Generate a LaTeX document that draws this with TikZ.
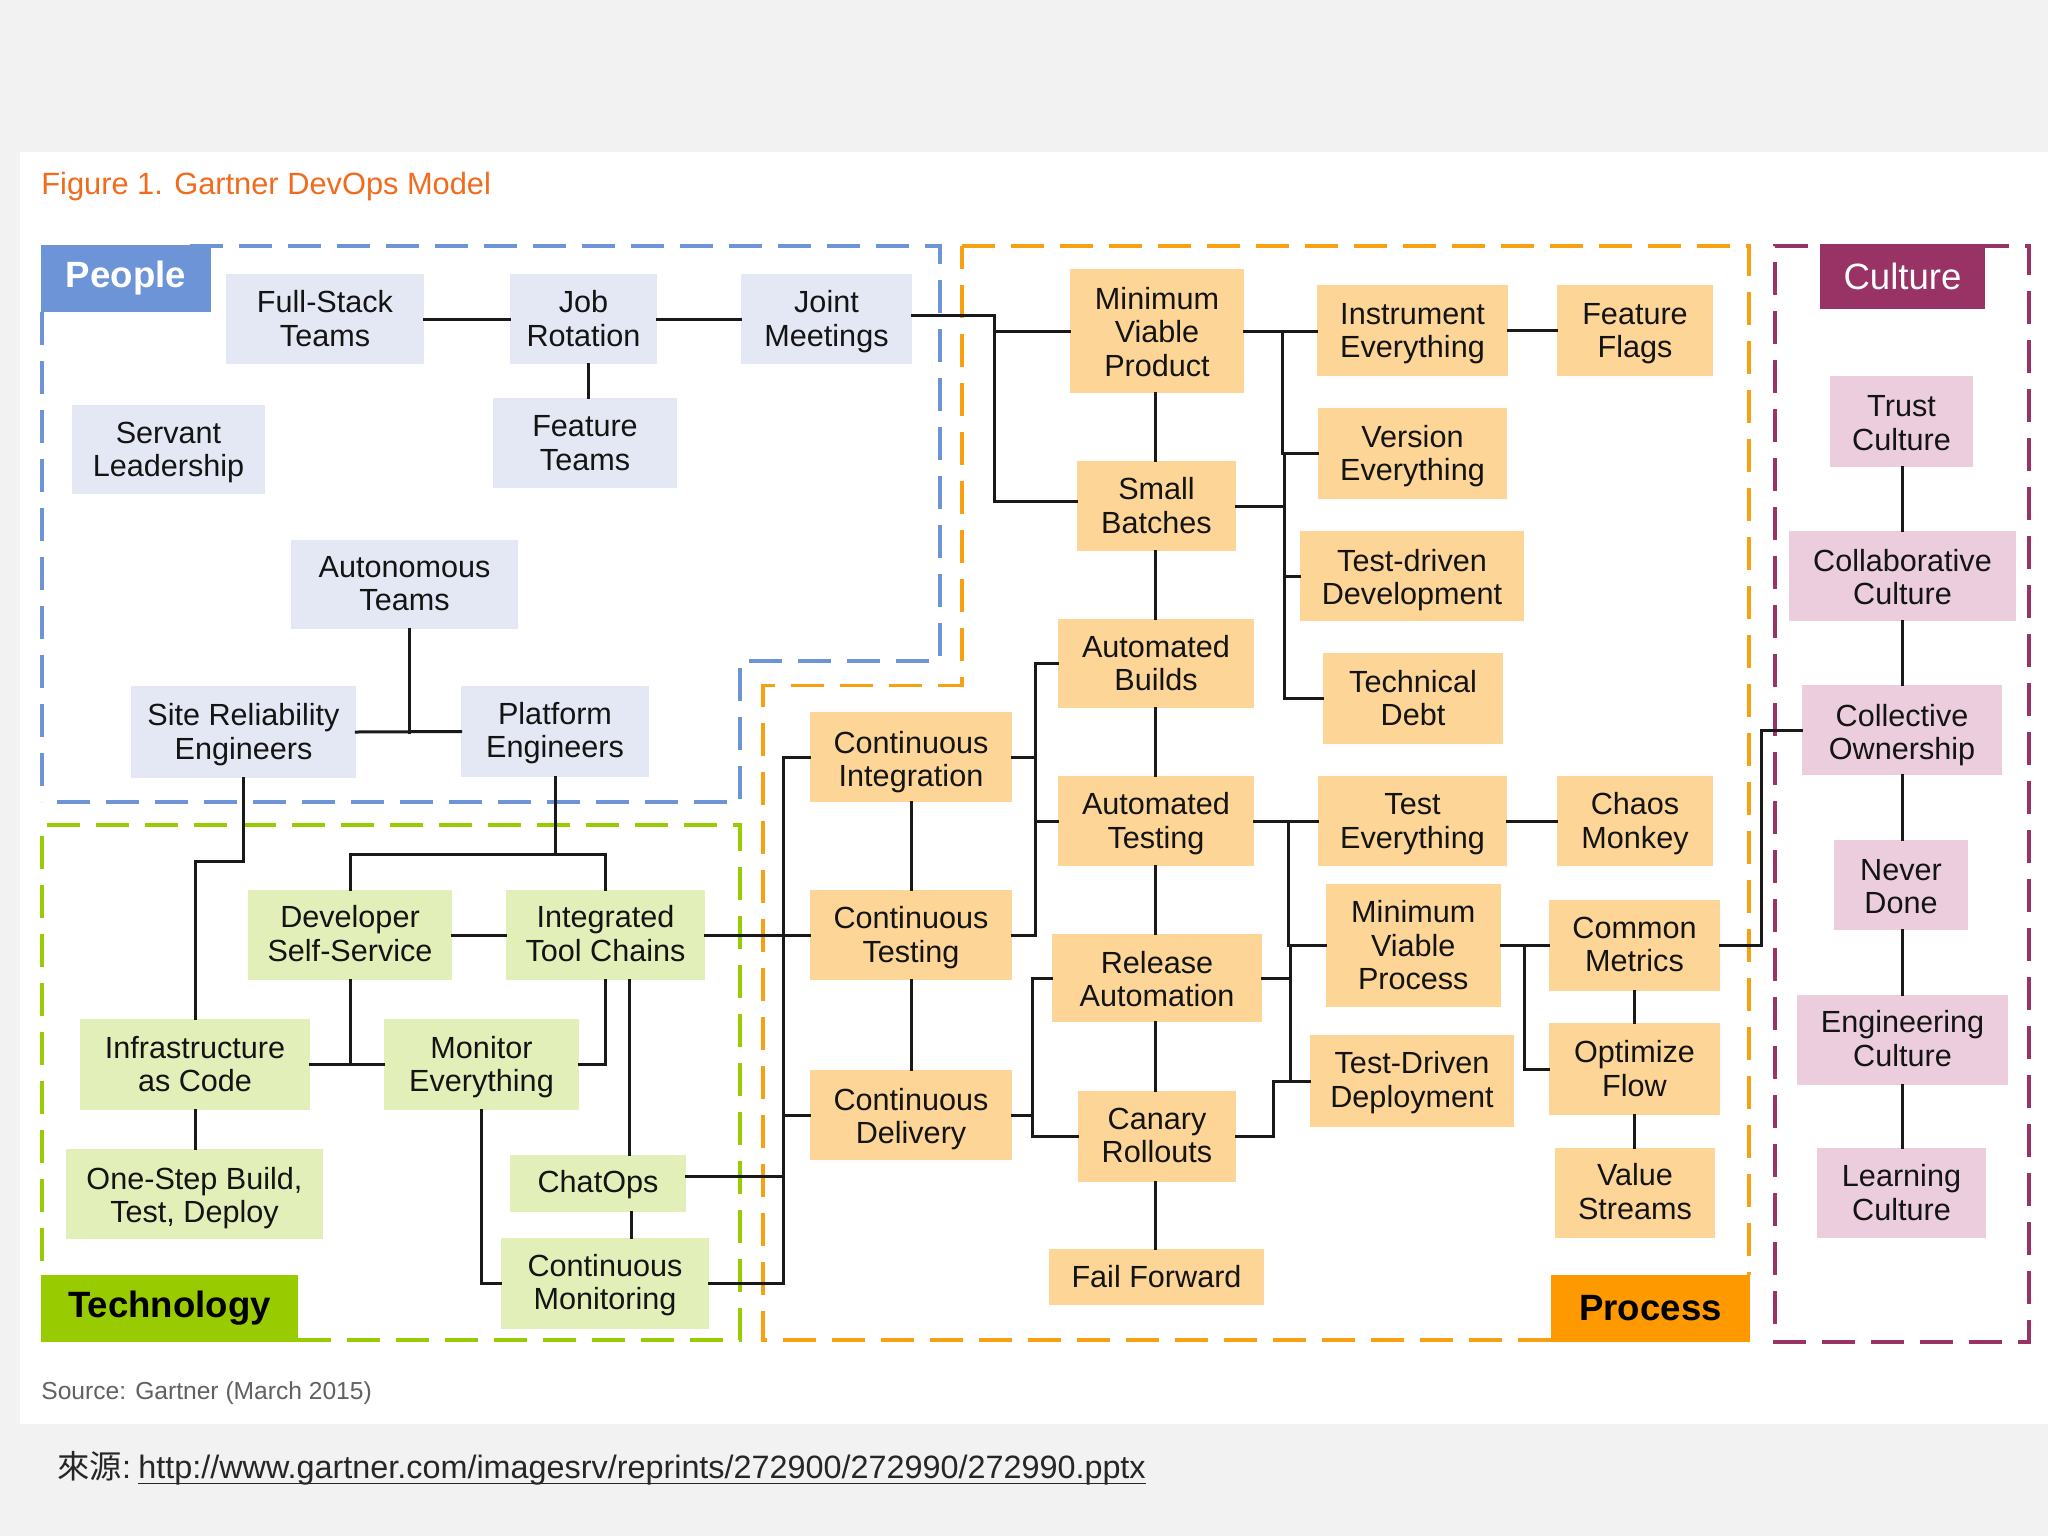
\documentclass[tikz,border=0pt]{standalone}
\usepackage{fontspec}
\setmainfont{Liberation Sans}
\newfontfamily\cjkf{Noto Sans CJK TC}
\definecolor{pageg}{HTML}{F2F2F2}
\definecolor{pblue}{HTML}{6C94D6}
\definecolor{pbox}{HTML}{E3E8F4}
\definecolor{tgreen}{HTML}{99CC00}
\definecolor{tbox}{HTML}{E3EFB9}
\definecolor{porange}{HTML}{FF9900}
\definecolor{odash}{HTML}{F7A012}
\definecolor{obox}{HTML}{FDD596}
\definecolor{cmag}{HTML}{993366}
\definecolor{cbox}{HTML}{EBCDDD}
\definecolor{ttl}{HTML}{F26B1D}
\tikzset{
  x=0.5pt,y=-0.5pt,
  box/.style={inner sep=0pt,text=black!92,font=\fontsize{15.3}{16.75}\selectfont},
  peoplebox/.style={box,fill=pbox},
  techbox/.style={box,fill=tbox},
  procbox/.style={box,fill=obox},
  cultbox/.style={box,fill=cbox},
  header/.style={inner sep=0pt,align=center,font=\fontsize{18.3}{20}\selectfont},
  zone/.style={line width=1.9pt,dash pattern=on 16.5pt off 8pt},
  link/.style={line width=1.5pt,color=black!90,line cap=rect},
}
% \bx[text drop in pt]{name}{style}{x1}{y1}{x2}{y2}{text}
\newcommand{\bx}[8][2]{\node[#3,minimum width={(#6-#4)*0.5pt},minimum height={(#7-#5)*0.5pt}] (#2) at ({(#4+#6)/2},{(#5+#7)/2}) {\raisebox{-#1pt}[\height][\depth]{\begin{tabular}{@{}c@{}}#8\end{tabular}}};}
\begin{document}
\begin{tikzpicture}
\useasboundingbox (0,0) rectangle (2048,1536);
\fill[pageg] (0,0) rectangle (2048,1536);
\fill[white] (20,152) rectangle (2048,1424);
% zones
\draw[zone,pblue] (190,246) -- (940,246) -- (940,661) -- (740,661) -- (740,802) -- (42,802);
\draw[zone,pblue] (42,312) -- (42,802);
\draw[zone,odash] (962,246) -- (1749,246) -- (1749,1275);
\draw[zone,odash] (1551,1340) -- (763,1340) -- (763,685.5) -- (962,685.5) -- (962,246);
\draw[zone,tgreen] (298,1340) -- (740,1340) -- (740,825) -- (42,825) -- (42,1275);
\draw[zone,cmag] (1808,246) -- (1775,246) -- (1775,1342) -- (2029,1342) -- (2029,246) -- (1985,246);
% headers
\node[header,fill=pblue,text=white,minimum width=85pt,minimum height=33.5pt,font=\fontsize{18.3}{20}\selectfont\bfseries] (hp) at (126,278.5) {People};
\node[header,fill=tgreen,text=black,minimum width=128.5pt,minimum height=33.5pt,font=\fontsize{18.3}{20}\selectfont\bfseries] (ht) at (169.5,1308.5) {Technology};
\node[header,fill=porange,text=black,minimum width=99.5pt,minimum height=33.5pt,font=\fontsize{18.3}{20}\selectfont\bfseries] (hr) at (1650.5,1308.5) {Process};
\node[header,fill=cmag,text=white,minimum width=82.5pt,minimum height=32.5pt] (hc) at (1902.5,276.5) {Culture};
% people
\bx{fs}{peoplebox}{226}{274}{424}{364}{Full-Stack\\Teams}
\bx{job}{peoplebox}{510}{274}{657}{364}{Job\\Rotation}
\bx{joint}{peoplebox}{741}{274}{912}{364}{Joint\\Meetings}
\bx{ft}{peoplebox}{493}{398}{677}{488}{Feature\\Teams}
\bx{serv}{peoplebox}{72}{405}{265}{494}{Servant\\Leadership}
\bx[1.3]{auton}{peoplebox}{291}{540}{518}{629}{Autonomous\\Teams}
\bx{site}{peoplebox}{131}{686}{356}{778}{Site Reliability\\Engineers}
\bx[1.3]{plat}{peoplebox}{461}{686}{649}{777}{Platform\\Engineers}
% technology
\bx[1.3]{dev}{techbox}{248}{890}{452}{980}{Developer\\Self-Service}
\bx[1.3]{integ}{techbox}{506}{890}{705}{980}{Integrated\\Tool Chains}
\bx{infra}{techbox}{80}{1019}{310}{1110}{Infrastructure\\as Code}
\bx{mon}{techbox}{384}{1019}{579}{1110}{Monitor\\Everything}
\bx[2.6]{one}{techbox}{66}{1149}{323}{1239}{One-Step Build,\\Test, Deploy}
\bx[1.3]{chat}{techbox}{510}{1155}{686}{1212}{ChatOps}
\bx[1.3]{cm}{techbox}{501}{1238}{709}{1329}{Continuous\\Monitoring}
% process
\bx[3.2]{ci}{procbox}{810}{712}{1012}{802}{Continuous\\Integration}
\bx{ct}{procbox}{810}{890}{1012}{980}{Continuous\\Testing}
\bx[2.6]{cd}{procbox}{810}{1070}{1012}{1160}{Continuous\\Delivery}
\bx[2.6]{mvp}{procbox}{1070}{269}{1244}{393}{Minimum\\Viable\\Product}
\bx{small}{procbox}{1077}{461}{1236}{551}{Small\\Batches}
\bx{builds}{procbox}{1058}{619}{1254}{708}{Automated\\Builds}
\bx{atest}{procbox}{1058}{776}{1254}{866}{Automated\\Testing}
\bx[2.6]{rel}{procbox}{1052}{934}{1262}{1022}{Release\\Automation}
\bx[1.3]{can}{procbox}{1078}{1091}{1236}{1182}{Canary\\Rollouts}
\bx{fail}{procbox}{1049}{1249}{1264}{1305}{Fail Forward}
\bx{inst}{procbox}{1317}{285}{1508}{376}{Instrument\\Everything}
\bx{flags}{procbox}{1557}{285}{1713}{376}{Feature\\Flags}
\bx{ver}{procbox}{1318}{408}{1507}{499}{Version\\Everything}
\bx[2.6]{td}{procbox}{1300}{531}{1524}{621}{Test-driven\\Development}
\bx{tech}{procbox}{1323}{653}{1503}{744}{Technical\\Debt}
\bx{te}{procbox}{1318}{776}{1507}{866}{Test\\Everything}
\bx{chaos}{procbox}{1557}{776}{1713}{866}{Chaos\\Monkey}
\bx{mvpr}{procbox}{1325.5}{884}{1501}{1007}{Minimum\\Viable\\Process}
\bx[1.3]{tdd}{procbox}{1310}{1035}{1514}{1127}{Test-Driven\\Deployment}
\bx[1.3]{com}{procbox}{1549}{900}{1720}{991}{Common\\Metrics}
\bx{opt}{procbox}{1549}{1023}{1720}{1115}{Optimize\\Flow}
\bx[1.3]{val}{procbox}{1555}{1148}{1715}{1238}{Value\\Streams}
% culture
\bx[2.6]{trust}{cultbox}{1830}{376}{1973}{467}{Trust\\Culture}
\bx[2.6]{collab}{cultbox}{1789}{531}{2016}{621}{Collaborative\\Culture}
\bx[3.2]{coll}{cultbox}{1802}{685}{2002}{775}{Collective\\Ownership}
\bx[2.6]{never}{cultbox}{1834}{840}{1968}{930}{Never\\Done}
\bx[1.3]{eng}{cultbox}{1797}{995}{2008}{1085}{Engineering\\Culture}
\bx{learn}{cultbox}{1817}{1148}{1986}{1238}{Learning\\Culture}
% texts
\node[anchor=west,inner sep=0pt,text=ttl,font=\fontsize{15.4}{17}\selectfont] (title) at (41,187) {Figure 1. Gartner DevOps Model};
\node[anchor=west,inner sep=0pt,text=black!62,font=\fontsize{12.3}{14}\selectfont] (src) at (41,1393) {Source: Gartner (March 2015)};
\node[anchor=base west,inner sep=0pt,text=black!85,font=\fontsize{16.18}{18}\selectfont] (lbl) at (57,1478) {{\cjkf 來源}:};
\node[anchor=base west,inner sep=0pt,text=black!85,font=\fontsize{16.18}{18}\selectfont] (url) at (138,1478) {\underline{\smash{http://www.gartner.com/imagesrv/reprints/272900/272990/272990.pptx}\rule[-1.4pt]{0pt}{1pt}}};
% junction columns and rows
\coordinate (jx) at (588,0);
\coordinate (ax) at (409.5,0);
\coordinate (jn) at (994,315);
\coordinate (sj) at (243.5,861);
\coordinate (pj) at (555,854);
\coordinate (ic) at (629,0);
\coordinate (cc) at (631,0);
\coordinate (bus) at (783,1176);
\coordinate (colb) at (1155.5,0);
\coordinate (colc) at (911,0);
\coordinate (cold) at (1634.5,0);
\coordinate (cole) at (1902,0);
\coordinate (b1) at (1282,0);
\coordinate (b2) at (1284,0);
\coordinate (b3) at (1035,0);
\coordinate (b4) at (1288,0);
\coordinate (b5) at (1290.5,0);
\coordinate (b6) at (1273,0);
\coordinate (b7) at (1032,0);
\coordinate (b8) at (1524,0);
\coordinate (b9) at (1761,0);
\coordinate (sl) at ([yshift=2.5pt]small.west);
\begin{scope}[link]
% people
\draw (fs.east) -- (job.west);
\draw (job.east) -- (joint.west);
\draw (jx |- job.south) -- (jx |- ft.north);
\draw (ax |- auton.south) -- (ax |- site.east);
\draw (site.east) -- (plat.west);
\draw (joint.east |- jn) -- (jn) -- (jn |- sl) -- (sl);
\draw (jn |- mvp.west) -- (mvp.west);
% people to technology
\draw (site.south) -- (sj) -- (sj -| infra.north) -- (infra.north);
\draw (plat.south) -- (pj);
\draw (dev.north) -- (dev.north |- pj) -- (integ.north |- pj) -- (integ.north);
% technology
\draw (dev.east) -- (integ.west);
\draw (integ.east) -- (ct.west);
\draw (dev.south) -- (dev.south |- infra.east);
\draw (infra.east) -- (mon.west);
\draw (integ.south) -- (integ.south |- mon.east) -- (mon.east);
\draw (ic |- integ.south) -- (ic |- chat.north);
\draw (cc |- chat.south) -- (cc |- cm.north);
\draw (infra.south) -- (infra.south |- one.north);
\draw (mon.south) -- (mon.south |- cm.west) -- (cm.west);
\draw (chat.east |- bus) -- (bus);
\draw (ci.west) -- (ci.west -| bus) -- (bus |- cm.east) -- (cm.east);
\draw (cd.west) -- (cd.west -| bus);
% process
\draw (colc |- ci.south) -- (colc |- ct.north);
\draw (colc |- ct.south) -- (colc |- cd.north);
\draw (colb |- mvp.south) -- (colb |- small.north);
\draw (colb |- small.south) -- (colb |- builds.north);
\draw (colb |- builds.south) -- (colb |- atest.north);
\draw (colb |- atest.south) -- (colb |- rel.north);
\draw (colb |- rel.south) -- (colb |- can.north);
\draw (colb |- can.south) -- (colb |- fail.north);
\draw (mvp.east) -- (mvp.east -| inst.west);
\draw (inst.east) -- (flags.west);
\draw (b1 |- mvp.east) -- (b1 |- ver.west) -- (ver.west);
\draw (small.east) -- (small.east -| b2);
\draw (b2 |- ver.west) -- (b2 |- tech.west) -- (tech.west);
\draw (b2 |- td.west) -- (td.west);
\draw (builds.west) -- (builds.west -| b3) -- (b3 |- ct.east) -- (ct.east);
\draw (ci.east) -- (ci.east -| b3);
\draw (atest.west) -- (atest.west -| b3);
\draw (atest.east) -- (te.west);
\draw (te.east) -- (chaos.west);
\draw (b4 |- atest.east) -- (b4 |- mvpr.west) -- (mvpr.west);
\draw (rel.east) -- (rel.east -| b5);
\draw (b5 |- mvpr.west) -- (b5 |- tdd.west);
\draw (tdd.west) -- (tdd.west -| b6) -- (b6 |- can.east) -- (can.east);
\draw (rel.west) -- (rel.west -| b7) -- (b7 |- can.west) -- (can.west);
\draw (cd.east) -- (cd.east -| b7);
\draw (mvpr.east) -- (com.west);
\draw (b8 |- mvpr.east) -- (b8 |- opt.west) -- (opt.west);
\draw (cold |- com.south) -- (cold |- opt.north);
\draw (cold |- opt.south) -- (cold |- val.north);
\draw (com.east) -- (b9 |- com.east) -- (b9 |- coll.west) -- (coll.west);
% culture
\draw (cole |- trust.south) -- (cole |- collab.north);
\draw (cole |- collab.south) -- (cole |- coll.north);
\draw (cole |- coll.south) -- (cole |- never.north);
\draw (cole |- never.south) -- (cole |- eng.north);
\draw (cole |- eng.south) -- (cole |- learn.north);
\end{scope}
\end{tikzpicture}
\end{document}
